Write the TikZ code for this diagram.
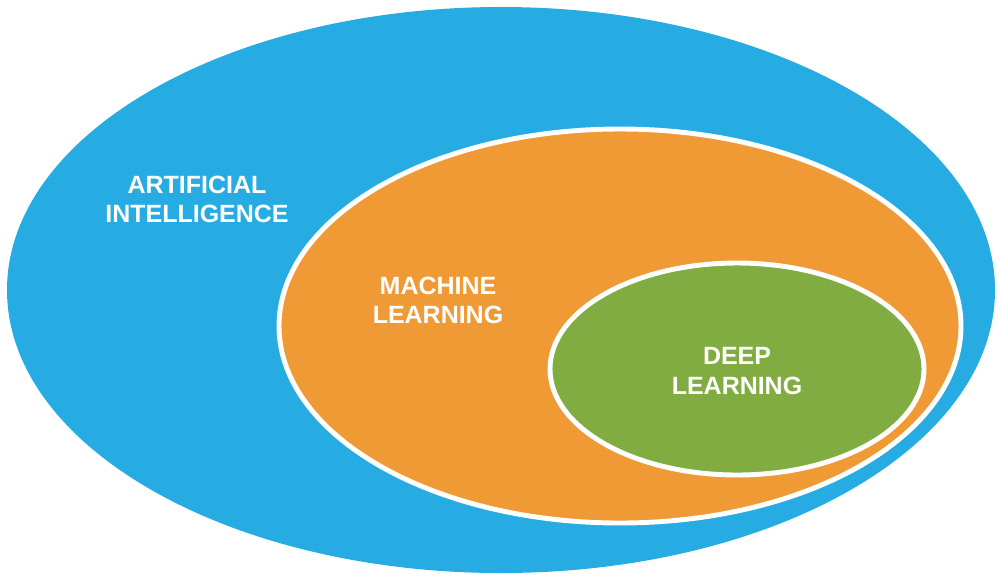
\documentclass[tikz,border=0pt]{standalone}
\usepackage{fontspec}
\setmainfont{Liberation Sans}
\definecolor{aiblue}{RGB}{38,172,226}
\definecolor{mlorange}{RGB}{239,154,53}
\definecolor{dlgreen}{RGB}{128,172,65}
\begin{document}
\begin{tikzpicture}[x=0.01cm,y=-0.01cm,
  lbl/.style={text=white,font=\fontsize{7.1}{8.3}\selectfont\bfseries,align=center},
  ring/.style={draw=white,line width=1.4pt}]
\useasboundingbox (0,0) rectangle (1000,581);
\fill[aiblue] (501,290) ellipse [x radius=494, y radius=283];
\draw[ring,fill=mlorange] (620,326) ellipse [x radius=341, y radius=197];
\draw[ring,fill=dlgreen] (737,369) ellipse [x radius=187, y radius=106];
\node[lbl] (ai) at (197,199) {ARTIFICIAL\\INTELLIGENCE};
\node[lbl] (ml) at (438,300) {MACHINE\\LEARNING};
\node[lbl] (dl) at (737,371) {DEEP\\LEARNING};
\end{tikzpicture}
\end{document}
